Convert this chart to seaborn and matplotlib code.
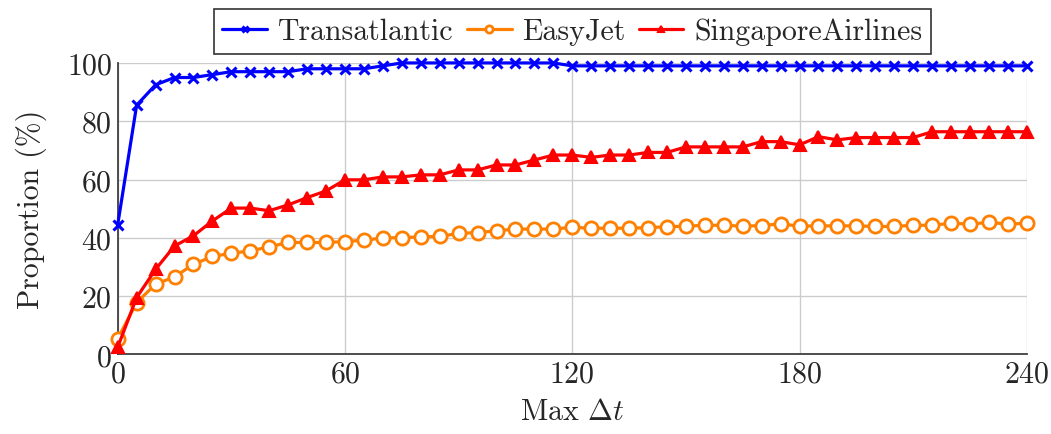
import numpy as np
import pandas as pd
import seaborn as sns
import matplotlib.pyplot as plt

# Max delta t values (every 5 units from 0 to 240)
max_dt = list(range(0, 245, 5))

transatlantic = [
    44.5, 85.5, 92.5, 95, 95, 96, 97, 97, 97, 97,
    98, 98, 98, 98, 99, 100, 100, 100, 100, 100,
    100, 100, 100, 100, 99, 99, 99, 99, 99, 99,
    99, 99, 99, 99, 99, 99, 99, 99, 99, 99,
    99, 99, 99, 99, 99, 99, 99, 99, 99,
]
easyjet = [
    5.4, 17.8, 24.1, 26.6, 30.9, 33.6, 34.7, 35.5, 36.9, 38.4,
    38.4, 38.4, 38.7, 39.2, 39.9, 40.1, 40.3, 40.5, 41.5, 41.8,
    42.4, 43.0, 43.0, 43.0, 43.6, 43.3, 43.3, 43.3, 43.5, 43.8,
    44.0, 44.3, 44.3, 44.0, 44.2, 44.8, 44.0, 44.1, 44.1, 44.1,
    43.9, 43.9, 44.3, 44.3, 45.0, 44.7, 45.3, 44.7, 45.0,
]
singapore = [
    2.5, 19.5, 29.2, 37.2, 40.7, 45.8, 50.2, 50.2, 49.3, 51.3,
    53.8, 56.1, 59.9, 59.9, 60.9, 60.9, 61.6, 61.6, 63.3, 63.3,
    65.0, 65.0, 66.7, 68.4, 68.4, 67.6, 68.4, 68.4, 69.3, 69.3,
    71.2, 71.2, 71.2, 71.2, 73.0, 73.0, 71.9, 74.7, 73.6, 74.4,
    74.4, 74.4, 74.4, 76.4, 76.4, 76.4, 76.4, 76.4, 76.4,
]

series_names = ["Transatlantic", "EasyJet", "SingaporeAirlines"]
series_colors = ["#0000ff", "#ff8000", "#ff0000"]

df = pd.DataFrame({
    "dt": max_dt * 3,
    "value": transatlantic + easyjet + singapore,
    "airline": [n for n in series_names for _ in max_dt],
})

sns.set_style("whitegrid")
plt.rcParams["font.family"] = ["cmr10"]
plt.rcParams["mathtext.fontset"] = "cm"
plt.rcParams["axes.formatter.use_mathtext"] = True

FONTSIZE = 21.5

fig, ax = plt.subplots(figsize=(10.51, 4.35), dpi=100)

marker_kw = {
    "Transatlantic": dict(marker="x", markersize=7, markeredgewidth=2.2,
                          markerfacecolor="#0000ff"),
    "EasyJet": dict(marker="o", markersize=9.5, markeredgewidth=2.0,
                    markerfacecolor="white"),
    "SingaporeAirlines": dict(marker="^", markersize=9, markeredgewidth=1.5,
                              markerfacecolor="#ff0000"),
}

for name, color in zip(series_names, series_colors):
    sub = df[df["airline"] == name]
    sns.lineplot(
        data=sub, x="dt", y="value", ax=ax, color=color, linewidth=2.3,
        markeredgecolor=color, label=name, clip_on=False, zorder=3,
        **marker_kw[name],
    )

ax.set_xlim(0, 240)
ax.set_ylim(0, 100)
ax.set_xticks([0, 60, 120, 180, 240])
ax.set_yticks([0, 20, 40, 60, 80, 100])
ax.tick_params(labelsize=FONTSIZE, direction="in", length=5, width=1,
               color="#555555", pad=4)
ax.grid(True, color="#cccccc", linewidth=1)

for s in ["top", "right"]:
    ax.spines[s].set_visible(False)
for s in ["left", "bottom"]:
    ax.spines[s].set_color("#404040")
    ax.spines[s].set_linewidth(1.3)

ax.set_xlabel(r"Max $\Delta t$", fontsize=FONTSIZE, labelpad=7)
ax.set_ylabel("Proportion (%)", fontsize=FONTSIZE, labelpad=14)

legend = ax.legend(
    loc="lower center", bbox_to_anchor=(0.5, 1.03), ncol=3, fontsize=FONTSIZE,
    frameon=True, fancybox=False, handlelength=1.5, columnspacing=0.45,
    handletextpad=0.35, borderpad=0.3, borderaxespad=0, markerscale=0.55,
)
frame = legend.get_frame()
frame.set_edgecolor("#333333")
frame.set_linewidth(1.2)
frame.set_alpha(1)

plt.subplots_adjust(left=0.112, right=0.977, top=0.853, bottom=0.183)
plt.savefig("out.png", dpi=100)
